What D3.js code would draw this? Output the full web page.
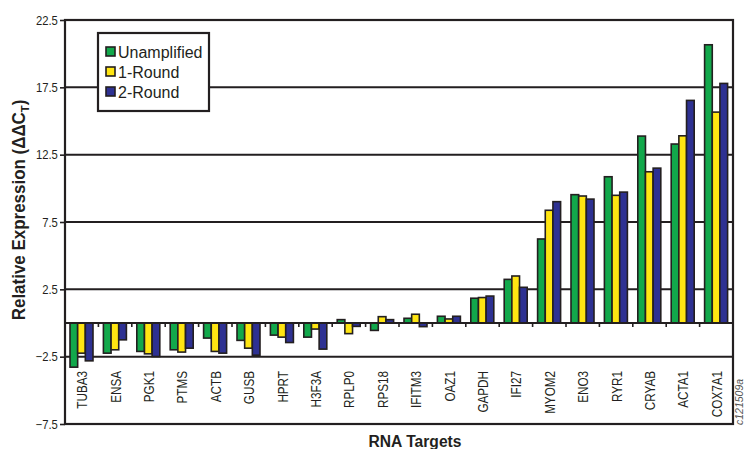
<!DOCTYPE html>
<html>
<head>
<meta charset="utf-8">
<script src="https://cdn.jsdelivr.net/npm/d3@7"></script>
<style>
  html, body { margin: 0; padding: 0; background: #fff; }
  svg { display: block; }
  .narrow { font-family: "Liberation Sans Narrow", "Arial Narrow", "Liberation Sans", Arial, sans-serif; }
</style>
</head>
<body>
<svg id="chart" width="745" height="449"></svg>
<script>
// RNA targets along the x axis
const categories = ["TUBA3", "ENSA", "PGK1", "PTMS", "ACTB", "GUSB", "HPRT", "H3F3A", "RPLP0", "RPS18",
  "IFITM3", "OAZ1", "GAPDH", "IFI27", "MYOM2", "ENO3", "RYR1", "CRYAB", "ACTA1", "COX7A1"];

// Relative expression (ΔΔCT) per target
const unamplified = [-3.28, -2.24, -2.11, -1.99, -1.12, -1.29, -0.90, -1.05, 0.25, -0.55,
  0.35, 0.50, 1.84, 3.24, 6.24, 9.53, 10.86, 13.88, 13.29, 20.66];
const round1 = [-2.24, -1.99, -2.29, -2.16, -2.11, -1.87, -1.05, -0.45, -0.79, 0.47,
  0.65, 0.30, 1.89, 3.49, 8.37, 9.43, 9.48, 11.23, 13.90, 15.66];
const round2 = [-2.81, -1.25, -2.49, -1.87, -2.24, -2.39, -1.45, -1.94, -0.25, 0.25,
  -0.27, 0.50, 2.00, 2.65, 9.01, 9.20, 9.72, 11.50, 16.53, 17.79];

const seriesNames = ["Unamplified", "1-Round", "2-Round"];
const seriesColors = ["#12a84b", "#ffe512", "#2e3192"];
const yTicks = [22.5, 17.5, 12.5, 7.5, 2.5, -2.5, -7.5];

const ink = "#231f20";
const condense = 0.78; // horizontal squeeze for the narrow label face
const svg = d3.select("#chart");
const plotLeft = 65, plotRight = 733, plotTop = 20, plotBottom = 424;

const y = d3.scaleLinear().domain([-7.5, 22.5]).range([plotBottom, plotTop]);
const x0 = d3.scaleBand().domain(categories).range([plotLeft, plotRight]).padding(0);
const x1 = d3.scaleBand().domain(seriesNames).range([5, 28]).padding(0);

const seriesValues = [unamplified, round1, round2];
const rows = categories.map((c, i) => ({
  cat: c,
  vals: seriesNames.map((s, j) => ({ s, j, v: seriesValues[j][i] }))
}));

// horizontal grid lines at each labelled tick
svg.append("g").selectAll("line").data(yTicks).join("line")
  .attr("x1", plotLeft).attr("x2", plotRight)
  .attr("y1", d => y(d)).attr("y2", d => y(d))
  .attr("stroke", ink).attr("stroke-width", 2);

// bars
const groups = svg.append("g").selectAll("g").data(rows).join("g")
  .attr("transform", d => `translate(${x0(d.cat)},0)`);
groups.selectAll("rect").data(d => d.vals).join("rect")
  .attr("x", d => x1(d.s))
  .attr("width", x1.bandwidth())
  .attr("y", d => Math.min(y(d.v), y(0)))
  .attr("height", d => Math.abs(y(d.v) - y(0)))
  .attr("fill", d => seriesColors[d.j])
  .attr("stroke", ink).attr("stroke-width", 1.6);

// zero baseline with category separators
svg.append("line")
  .attr("x1", plotLeft).attr("x2", plotRight).attr("y1", y(0)).attr("y2", y(0))
  .attr("stroke", ink).attr("stroke-width", 2.2);
svg.append("g").selectAll("line").data(categories.slice(1)).join("line")
  .attr("x1", d => x0(d)).attr("x2", d => x0(d))
  .attr("y1", y(0)).attr("y2", y(0) + 4)
  .attr("stroke", ink).attr("stroke-width", 1.6);

// frame
svg.append("rect")
  .attr("x", plotLeft).attr("y", plotTop)
  .attr("width", plotRight - plotLeft).attr("height", plotBottom - plotTop)
  .attr("fill", "none").attr("stroke", ink).attr("stroke-width", 2.2);

// y axis ticks and labels
const yAxis = d3.axisLeft(y).tickValues(yTicks).tickSize(5).tickPadding(3)
  .tickFormat(d3.format(".1f"));
const yg = svg.append("g").attr("transform", `translate(${plotLeft},0)`).call(yAxis);
yg.select(".domain").remove();
yg.selectAll(".tick line").attr("stroke", ink).attr("stroke-width", 1.6);
yg.selectAll(".tick text").attr("class", "narrow").attr("font-size", 12.5).attr("fill", ink)
  .attr("transform", "scale(0.9,1)");

// category labels, rotated
svg.append("g").selectAll("text").data(categories).join("text")
  .attr("class", "narrow")
  .attr("transform", d => `translate(${x0(d) + x0.bandwidth() / 2 + 5.5},371) rotate(-90) scale(${condense},1)`)
  .attr("text-anchor", "end")
  .attr("font-size", 15)
  .attr("fill", ink)
  .text(d => d);

// axis titles
const yt = svg.append("text").attr("class", "narrow")
  .attr("transform", "translate(25,210) rotate(-90) scale(0.97,1)")
  .attr("text-anchor", "middle").attr("font-size", 17.5).attr("font-weight", "bold").attr("fill", ink);
yt.append("tspan").text("Relative Expression (ΔΔC");
yt.append("tspan").text("T").attr("font-size", 11.5).attr("dy", 4);
yt.append("tspan").text(")").attr("dy", -4);

svg.append("text").attr("class", "narrow")
  .attr("transform", "translate(415,447) scale(0.92,1)")
  .attr("text-anchor", "middle").attr("font-size", 17).attr("font-weight", "bold").attr("fill", ink)
  .text("RNA Targets");

// legend
const lg = svg.append("g").attr("transform", "translate(98,33)");
lg.append("rect").attr("width", 111).attr("height", 78)
  .attr("fill", "#fff").attr("stroke", ink).attr("stroke-width", 2.2);
seriesNames.forEach((s, i) => {
  const yy = 19 + i * 20;
  lg.append("rect").attr("x", 8).attr("y", yy - 5).attr("width", 9).attr("height", 9)
    .attr("fill", seriesColors[i]).attr("stroke", ink).attr("stroke-width", 1.6);
  lg.append("text").attr("x", 20).attr("y", yy + 6)
    .attr("font-family", "'Liberation Sans', Arial, sans-serif")
    .attr("font-size", 16).attr("fill", ink).text(s);
});

// figure code
svg.append("text")
  .attr("transform", "translate(743,425) rotate(-90)")
  .attr("font-family", "'Liberation Sans', Arial, sans-serif")
  .attr("font-size", 10.5).attr("font-style", "italic").attr("fill", "#555")
  .text("c121509a");
</script>
</body>
</html>
